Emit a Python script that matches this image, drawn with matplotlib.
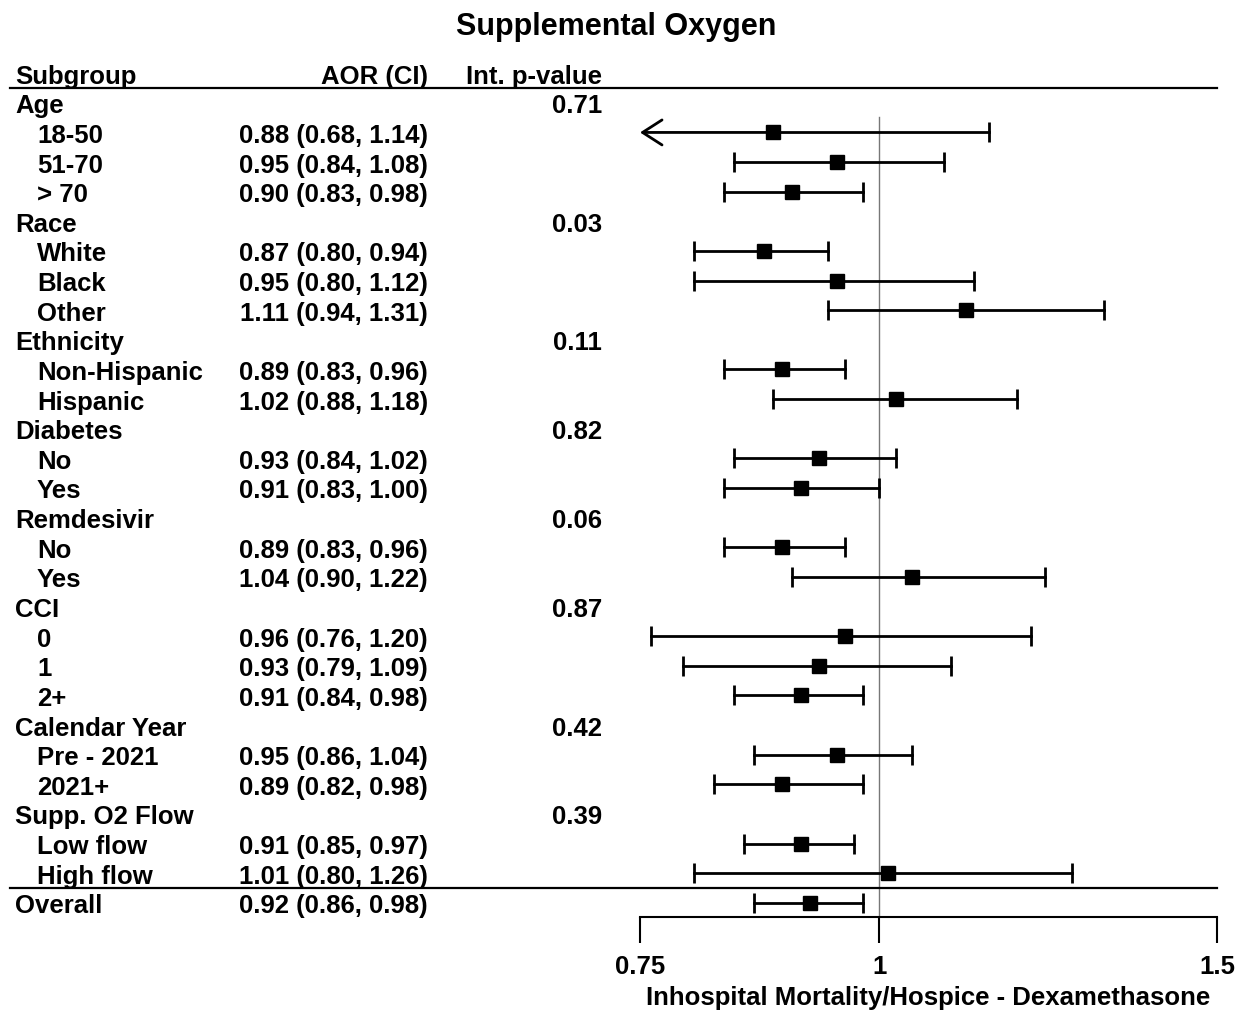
import matplotlib
matplotlib.use("Agg")
import matplotlib.pyplot as plt
from matplotlib.lines import Line2D
from matplotlib.transforms import blended_transform_factory

plt.rcParams['font.family'] = ['Liberation Sans', 'DejaVu Sans']
plt.rcParams['font.weight'] = 'bold'

# rows of the table
labels = ["Age", "18-50", "51-70", "> 70",
          "Race", "White", "Black", "Other",
          "Ethnicity", "Non-Hispanic", "Hispanic",
          "Diabetes", "No", "Yes",
          "Remdesivir", "No", "Yes",
          "CCI", "0", "1", "2+",
          "Calendar Year", "Pre - 2021", "2021+",
          "Supp. O2 Flow", "Low flow", "High flow",
          "Overall"]
is_group = [True, False, False, False,
            True, False, False, False,
            True, False, False,
            True, False, False,
            True, False, False,
            True, False, False, False,
            True, False, False,
            True, False, False,
            True]
pvals = ["0.71", "", "", "",
         "0.03", "", "", "",
         "0.11", "", "",
         "0.82", "", "",
         "0.06", "", "",
         "0.87", "", "", "",
         "0.42", "", "",
         "0.39", "", "",
         ""]
# estimates (None for group header rows)
aor = [None, 0.88, 0.95, 0.90,
       None, 0.87, 0.95, 1.11,
       None, 0.89, 1.02,
       None, 0.93, 0.91,
       None, 0.89, 1.04,
       None, 0.96, 0.93, 0.91,
       None, 0.95, 0.89,
       None, 0.91, 1.01,
       0.92]
lo = [None, 0.68, 0.84, 0.83,
      None, 0.80, 0.80, 0.94,
      None, 0.83, 0.88,
      None, 0.84, 0.83,
      None, 0.83, 0.90,
      None, 0.76, 0.79, 0.84,
      None, 0.86, 0.82,
      None, 0.85, 0.80,
      0.86]
hi = [None, 1.14, 1.08, 0.98,
      None, 0.94, 1.12, 1.31,
      None, 0.96, 1.18,
      None, 1.02, 1.00,
      None, 0.96, 1.22,
      None, 1.20, 1.09, 0.98,
      None, 1.04, 0.98,
      None, 0.97, 1.26,
      0.98]

xmin, xmax = 0.75, 1.5
W, H = 1240, 1012
fig = plt.figure(figsize=(W / 100, H / 100), dpi=100)
ax = fig.add_axes([640 / W, 1 - 918 / H, 577 / W, (918 - 89) / H])

n = len(labels)
row_h = (889 - 104) / 26.5
ax.set_xscale("log")
ax.set_xlim(xmin, xmax)
ax.set_ylim((918 - 104) / row_h, -0.5)

fs = 18.5
for s in ["top", "right", "left"]:
    ax.spines[s].set_visible(False)
ax.spines["bottom"].set_linewidth(1.5)
ax.set_yticks([])
ax.set_xticks([0.75, 1, 1.5])
ax.set_xticklabels(["0.75", "1", "1.5"])
ax.minorticks_off()
ax.tick_params(axis="x", direction="out", length=19, width=1.5, pad=8, labelsize=fs)
for t in ax.get_xticklabels():
    t.set_fontweight("bold")
ax.set_xlabel("Inhospital Mortality/Hospice - Dexamethasone", fontsize=fs,
              fontweight="bold", labelpad=5)

# reference line at 1
ax.plot([1, 1], [0.47, ax.get_ylim()[0]], color="#777777", lw=1, zorder=1)

for i in range(n):
    if aor[i] is None:
        continue
    l, h, e = lo[i], hi[i], aor[i]
    if l < xmin:
        ax.annotate("", xy=(xmin, i), xytext=(e, i),
                    arrowprops=dict(arrowstyle="->,head_length=0.7,head_width=0.45",
                                    lw=2, color="black", shrinkA=0, shrinkB=0,
                                    mutation_scale=20))
        ax.plot([e, h], [i, i], color="black", lw=2)
        ax.plot([h], [i], marker="|", ms=15, mew=2, color="black")
    else:
        ax.plot([l, h], [i, i], color="black", lw=2)
        ax.plot([l, h], [i, i], ls="none", marker="|", ms=15, mew=2, color="black")
    ax.plot([e], [i], marker="s", ms=10, color="black", zorder=3)

# text columns
tr = blended_transform_factory(fig.transFigure, ax.transData)
dy = 2.5 / row_h
ax.text(15 / W, -1 + dy, "Subgroup", transform=tr, fontsize=fs, fontweight="bold",
        ha="left", va="center")
ax.text(428 / W, -1 + dy, "AOR (CI)", transform=tr, fontsize=fs, fontweight="bold",
        ha="right", va="center")
ax.text(602 / W, -1 + dy, "Int. p-value", transform=tr, fontsize=fs, fontweight="bold",
        ha="right", va="center")
for i in range(n):
    x0 = 15 if is_group[i] else 37
    ax.text(x0 / W, i + dy, labels[i], transform=tr, fontsize=fs, fontweight="bold",
            ha="left", va="center")
    if aor[i] is not None:
        ax.text(428 / W, i + dy, f"{aor[i]:.2f} ({lo[i]:.2f}, {hi[i]:.2f})", transform=tr,
                fontsize=fs, fontweight="bold", ha="right", va="center")
    if pvals[i]:
        ax.text(602 / W, i + dy, pvals[i], transform=tr, fontsize=fs, fontweight="bold",
                ha="right", va="center")

# horizontal rules
for yr in [-0.5, 26.5]:
    fig.add_artist(Line2D([10 / W, 1217 / W], [yr, yr], transform=tr,
                          color="black", lw=1.6))

fig.text(616 / W, 1 - 27 / H, "Supplemental Oxygen", fontsize=22, fontweight="bold",
         ha="center", va="center")

fig.savefig("out.png", dpi=100)
